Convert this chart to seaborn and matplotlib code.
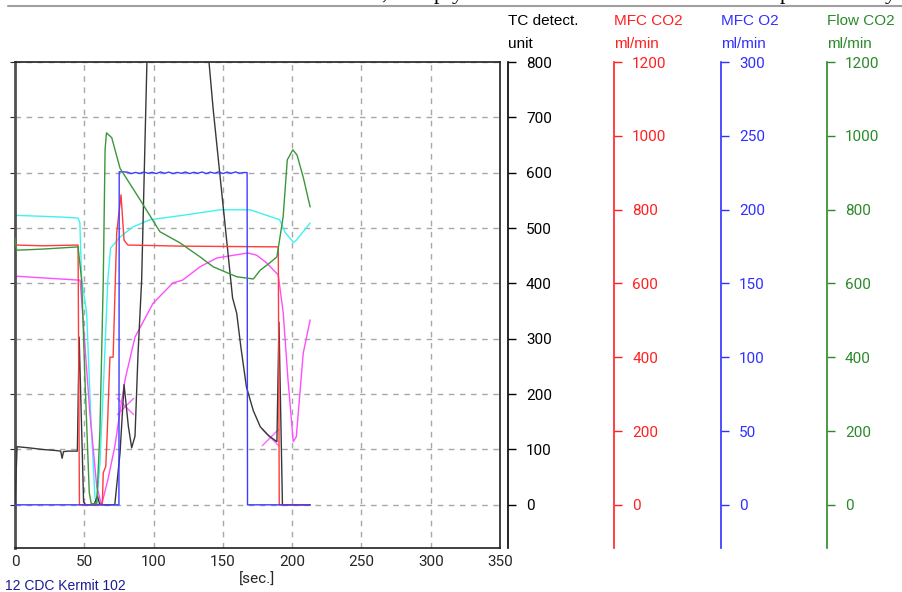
"""
TC detector / mass flow controller trace, redrawn from a screenshot of the
acquisition software (one shared time axis, four stacked value scales).
"""

import matplotlib

matplotlib.use("Agg")

import matplotlib.pyplot as plt
from matplotlib.lines import Line2D
import seaborn as sns

# --- TC detector signal (black), detector units -----------------------------
tc_time = [0, 1.5, 10, 20, 30, 33, 34, 35, 38, 45, 46.3, 49.5, 51, 57, 59.5,
           61, 63, 72, 75.8, 78.7, 81.8, 84.2, 86.6, 88.8, 91.4, 95.2, 108,
           125, 140, 143, 149, 157, 160, 163, 167, 172, 177, 183, 189, 190.5,
           193, 213]
tc_signal = [0, 105, 103, 100, 98, 97, 84, 96, 97, 97, 303, 5, 0, 0, 16,
             2, 0, 0, 94, 217, 142, 103, 124, 274, 406, 800, 1300,
             1150, 800, 715, 569, 374, 346, 285, 213, 170, 141, 125, 114, 330,
             0, 0]

# --- MFC CO2 (red), ml/min ---------------------------------------------------
co2_time = [0, 20, 45.5, 46.5, 63.0, 63.7, 65.5, 66.5, 68.5, 70.8, 73.4,
            76.5, 78.7, 81.5, 120, 190, 190.7, 213]
co2_flow = [704, 702, 704, 0, 0, 87, 104, 189, 400, 400, 737,
            840, 717, 704, 701, 699, 0, 0]

# --- MFC O2 (blue), ml/min ---------------------------------------------------
o2_time = [0, 75, 75.2, 78, 81, 84, 87, 90, 93, 96, 99, 102, 105, 108, 111,
           114, 117, 120, 123, 126, 129, 132, 135, 138, 141, 144, 147, 150,
           153, 156, 159, 162, 165, 167.5, 167.8, 213]
o2_flow = [0, 0, 225.6, 225.6, 225.4, 224.4, 225.2, 224.5, 225.5, 224.6,
           225.3, 224.4, 225.5, 224.6, 225.4, 224.4, 225.2, 224.6, 225.5,
           224.4, 225.3, 224.6, 225.5, 224.4, 225.4, 224.6, 225.6, 224.4,
           225.4, 224.6, 225.5, 224.7, 225.1, 225.1, 0, 0]

# --- Flow CO2 (green), ml/min ------------------------------------------------
flow_time = [0, 1.2, 20, 45.5, 48.1, 50.5, 53.6, 55, 59, 61.3, 63.7, 65, 66,
             69.8, 75.8, 90.2, 104.6, 119, 133.5, 143, 160, 172, 177, 184,
             189, 193.5, 196.5, 200.5, 203.5, 208, 213]
flow_co2 = [723, 690, 693, 699, 609, 339, 33, 3, 3, 203, 609, 962, 1008,
            995, 912, 827, 740, 710, 672, 645, 618, 612, 636, 656,
            672, 780, 935, 962, 948, 888, 807]

# --- unlabelled traces on the detector scale (cyan, magenta) -----------------
cyan_time = [0, 33, 45.5, 46.8, 48.1, 51.7, 54.6, 57.7, 59, 61.3, 64, 67, 69,
             76, 85, 97.4, 121, 148, 169.6, 176.8, 191, 195, 201, 203, 213]
cyan_trace = [523, 520, 518, 510, 406, 347, 166, 13, 5, 75, 226, 406, 464,
              484, 502, 515, 523, 533, 533, 527, 515, 492, 474, 478, 509]

mag_time = [0, 1, 20, 45.5, 47, 49.3, 54, 59, 62.5, 67, 72, 76, 79.4, 86.6,
            99.6, 114, 121, 133.5, 145.7, 168, 174.4, 181.6, 190, 193.6, 197,
            200.8, 203, 208, 213]
mag_trace = [406, 413, 410, 406, 406, 328, 166, 33, 0, 45, 105, 172, 226, 303,
             364, 401, 406, 430, 446, 455, 451, 437, 415, 346, 226,
             114, 123, 274, 334]

# cursor crosses on the magenta trace
cursor_time = [79.4, 184]
cursor_value = [179, 123]

# axis scales
time_ticks = [0, 50, 100, 150, 200, 250, 300, 350]
tc_ticks = [0, 100, 200, 300, 400, 500, 600, 700, 800]
co2_ticks = [0, 200, 400, 600, 800, 1000, 1200]
o2_ticks = [0, 50, 100, 150, 200, 250, 300]
flow_ticks = [0, 200, 400, 600, 800, 1000, 1200]

W, H = 902, 592
LABEL_FONT = ["Liberation Sans", "DejaVu Sans"]


def add_scale_axis(host, offset, top, ticks, color):
    """Extra value scale drawn as a free-standing spine right of the plot."""
    tw = host.twinx()
    tw.set_ylim(-top * 78 / 800, top)
    tw.patch.set_visible(False)
    for side in ("left", "top", "bottom"):
        tw.spines[side].set_visible(False)
    tw.spines["right"].set_position(("axes", offset))
    tw.spines["right"].set_color(color)
    tw.spines["right"].set_linewidth(1.2)
    tw.set_yticks(ticks)
    tw.tick_params(axis="y", colors=color, direction="out", length=6,
                   width=1, pad=7, labelsize=11)
    tw.grid(False)
    return tw


sns.set_style("white")
plt.rcParams["font.family"] = ["Roboto", "DejaVu Sans"]

fig = plt.figure(figsize=(W / 100, H / 100), dpi=100)
ax = fig.add_axes([15 / W, 44 / H, 485 / W, 486 / H])
ax.set_xlim(0, 350)
ax.set_ylim(-78, 800)
ax.set_xticks(time_ticks)
ax.set_yticks(tc_ticks)
ax.tick_params(axis="x", length=0, pad=5, labelsize=11)
ax.tick_params(axis="y", left=False, labelleft=False)
ax.grid(True, color="#a8a8a8", linestyle=(0, (4, 4)), linewidth=1)
ax.set_axisbelow(True)
for side in ("top", "right", "bottom"):
    ax.spines[side].set_color("#202020")
    ax.spines[side].set_linewidth(1.2)
ax.spines["left"].set_color("#505050")
ax.spines["left"].set_linewidth(2)
ax.set_xlabel("[sec.]", fontsize=11, labelpad=3)
ax.set_ylabel("")

ax_tc = add_scale_axis(ax, 1.0165, 800, tc_ticks, "#000000")
ax_co2 = add_scale_axis(ax, 1.2351, 1200, co2_ticks, "#ff2020")
ax_o2 = add_scale_axis(ax, 1.4557, 300, o2_ticks, "#3030ff")
ax_flow = add_scale_axis(ax, 1.6742, 1200, flow_ticks, "#2a8a2a")

line_kw = dict(linewidth=1.0, estimator=None, sort=False, legend=False)
sns.lineplot(x=cyan_time, y=cyan_trace, ax=ax, color="#3ff2f2", **line_kw)
sns.lineplot(x=mag_time, y=mag_trace, ax=ax, color="#ff4dff", **line_kw)
sns.lineplot(x=flow_time, y=flow_co2, ax=ax_flow, color="#3c963c", **line_kw)
sns.lineplot(x=co2_time, y=co2_flow, ax=ax_co2, color="#ff3b3b", **line_kw)
sns.lineplot(x=o2_time, y=o2_flow, ax=ax_o2, color="#3d3dff", **line_kw)
sns.lineplot(x=tc_time, y=tc_signal, ax=ax_tc, color="#383838", **line_kw)
sns.scatterplot(x=cursor_time, y=cursor_value, ax=ax_tc, marker="x", s=150,
                color="#ff66ff", linewidth=1, legend=False)
for a in (ax_tc, ax_co2, ax_o2, ax_flow):
    a.set_xlim(0, 350)
    a.set_ylabel("")
    a.set_xlabel("")

# scale headers
headers = [
    (508, "TC detect.", "unit", "#000000"),
    (614, "MFC CO2", "ml/min", "#ff2020"),
    (721, "MFC O2", "ml/min", "#3030ff"),
    (827, "Flow CO2", "ml/min", "#2a8a2a"),
]
for x_px, name, unit, color in headers:
    fig.text(x_px / W, 1 - 21 / H, name, color=color, fontsize=11,
             family=LABEL_FONT, va="center", ha="left")
    fig.text(x_px / W, 1 - 44 / H, unit, color=color, fontsize=11,
             family=LABEL_FONT, va="center", ha="left")

# page edge above the screenshot, with the bottom of the cut-off text line
fig.add_artist(Line2D([8 / W, 1], [1 - 6 / H, 1 - 6 / H], color="#a0a0a0",
                      linewidth=1.5, transform=fig.transFigure))
for x_px, glyph in [(381, ","), (434, "p"), (452, "y"), (780, "p"), (885, "y")]:
    fig.text(x_px / W, 1 + 1 / H, glyph, fontsize=16, color="#000000",
             family=["Liberation Serif", "DejaVu Serif"], va="baseline")

# instrument name in the bottom-left corner
fig.text(5 / W, 2 / H, "12 CDC Kermit 102", fontsize=10, color="#1c1c90",
         family=LABEL_FONT, va="baseline", ha="left")

fig.savefig("out.png", dpi=100)
plt.close(fig)
